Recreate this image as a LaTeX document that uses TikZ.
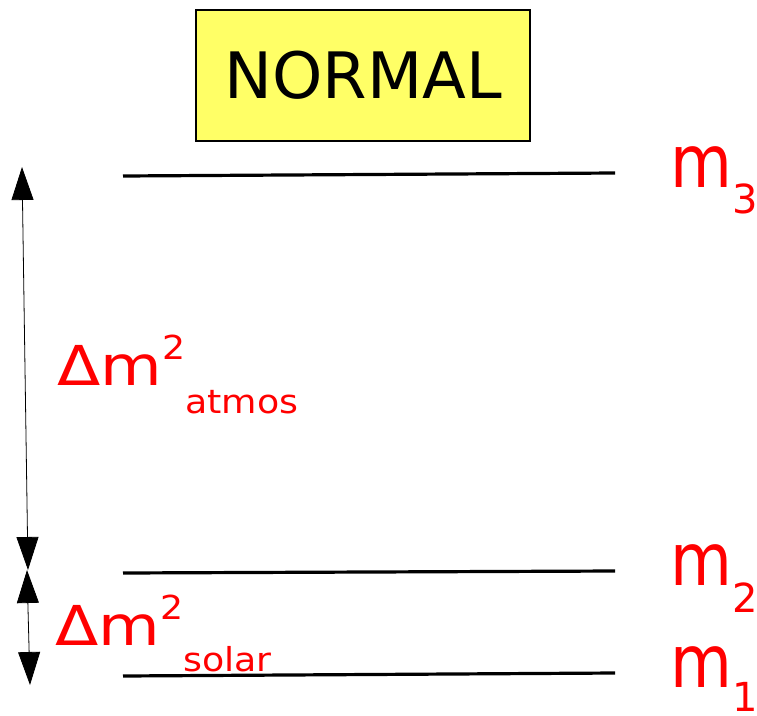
\documentclass[tikz,border=0pt]{standalone}
\usepackage{fontspec}
\setmainfont{DejaVu Sans}
\usetikzlibrary{arrows.meta}
\definecolor{boxyellow}{RGB}{255,255,102}
\newcommand{\sz}[1]{\fontsize{#1}{#1}\selectfont}
\newcommand{\massm}{\sz{73}\scalebox{0.87}[1]{m}}
\newcommand{\dmsq}{\scalebox{1.15}[1]{\sz{55}Δm}\scalebox{1.1}[1]{\sz{33}\raisebox{26pt}{2}}}
\begin{document}
\begin{tikzpicture}[x=1pt,y=-1pt,
  level/.style={line width=3.2pt},
  gap/.style={line width=0.8pt,{Triangle[length=33pt,width=22pt]}-{Triangle[length=33pt,width=22pt]}},
  mass/.style={text=red,anchor=base west,inner sep=0pt},
  split/.style={text=red,anchor=base west,inner sep=0pt}]
\useasboundingbox (0,0) rectangle (757,715);
% title box
\node[draw,line width=2.8pt,fill=boxyellow,minimum width=334pt,minimum height=131pt,
  inner sep=0pt,font=\sz{64}] (title) at (363,75.5) {NORMAL};
% mass levels
\coordinate (m3l) at (123,176); \coordinate (m3r) at (615,173);
\coordinate (m2l) at (123,573); \coordinate (m2r) at (615,571);
\coordinate (m1l) at (123,676); \coordinate (m1r) at (615,673);
\draw[level] (m3l) -- (m3r);
\draw[level] (m2l) -- (m2r);
\draw[level] (m1l) -- (m1r);
\node[mass] (lab3) at (670,187) {\massm\sz{40}\raisebox{-26pt}{3}};
\node[mass] (lab2) at (670,585) {\massm\sz{40}\raisebox{-27pt}{2}};
\node[mass] (lab1) at (670,687) {\massm\sz{40}\raisebox{-24pt}{1}};
% splittings
\coordinate (atop) at (22,167); \coordinate (abot) at (28,570);
\coordinate (stop) at (27,570); \coordinate (sbot) at (30,685);
\draw[gap] (atop) -- (abot);
\draw[gap] (stop) -- (sbot);
\node[split] (atm) at (57,385) {\dmsq\scalebox{1.1}[1]{\sz{33}\raisebox{-28pt}{atmos}}};
\node[split] (sol) at (55,645) {\dmsq\scalebox{1.1}[1]{\sz{33}\raisebox{-26pt}{solar}}};
\end{tikzpicture}
\end{document}
